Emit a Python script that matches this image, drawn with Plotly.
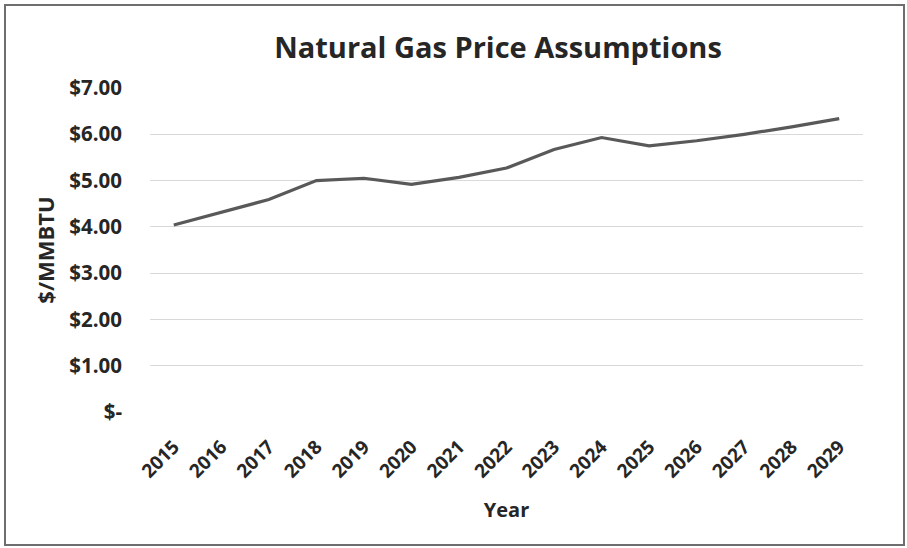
import plotly.graph_objects as go

# Natural gas price assumptions, $/MMBTU by year
years = ["2015", "2016", "2017", "2018", "2019", "2020", "2021", "2022",
         "2023", "2024", "2025", "2026", "2027", "2028", "2029"]
prices = [4.04, 4.32, 4.59, 5.00, 5.05, 4.92, 5.07, 5.27,
          5.67, 5.93, 5.75, 5.86, 6.00, 6.16, 6.34]

y_tick_vals = [0, 1, 2, 3, 4, 5, 6, 7]
y_tick_text = ["$-", "$1.00", "$2.00", "$3.00", "$4.00", "$5.00", "$6.00", "$7.00"]

W, H = 907, 548
ML, MR, MT, MB = 150, 44, 88, 136
PW, PH = W - ML - MR, H - MT - MB

FONT = "Open Sans"
TEXT = "#262626"

fig = go.Figure(
    go.Scatter(
        x=years, y=prices, mode="lines",
        line=dict(color="#595959", width=3.2),
        hoverinfo="x+y",
    )
)

# chart frame around the whole figure (in paper units)
def px_x(p):
    return (p - ML) / PW

def px_y(p):
    return (H - MB - p) / PH

fig.add_shape(
    type="rect", xref="paper", yref="paper",
    x0=px_x(5), x1=px_x(904), y0=px_y(545), y1=px_y(5),
    line=dict(color="#6e6e6e", width=2), layer="below",
)

fig.update_layout(
    width=W, height=H,
    margin=dict(l=ML, r=MR, t=MT, b=MB),
    paper_bgcolor="white", plot_bgcolor="white",
    showlegend=False,
    font=dict(family=FONT, color=TEXT),
    title=dict(
        text="<b>Natural Gas Price Assumptions</b>",
        x=498 / W, xanchor="center", y=1 - 48 / H, yanchor="middle",
        font=dict(size=29, family=FONT, color=TEXT),
    ),
    xaxis=dict(
        type="category",
        tickangle=-45,
        tickfont=dict(size=19, family=FONT, color=TEXT, weight="bold"),
        ticklabelstandoff=19,
        showgrid=False, showline=False, zeroline=False, ticks="",
        title=dict(text="<b>Year</b>", font=dict(size=20, family=FONT, color=TEXT), standoff=20),
        range=[-0.5, len(years) - 0.5],
    ),
    yaxis=dict(
        range=[0, 7],
        tickvals=y_tick_vals, ticktext=y_tick_text,
        tickfont=dict(size=20.5, family=FONT, color=TEXT, weight="bold"),
        ticklabelstandoff=27,
        showgrid=True, gridcolor="#d9d9d9", gridwidth=1.2,
        zeroline=False, showline=False, ticks="",
        title=dict(text="<b>$/MMBTU</b>", font=dict(size=22, family=FONT, color=TEXT), standoff=8),
    ),
)

fig.write_html("out.html")
